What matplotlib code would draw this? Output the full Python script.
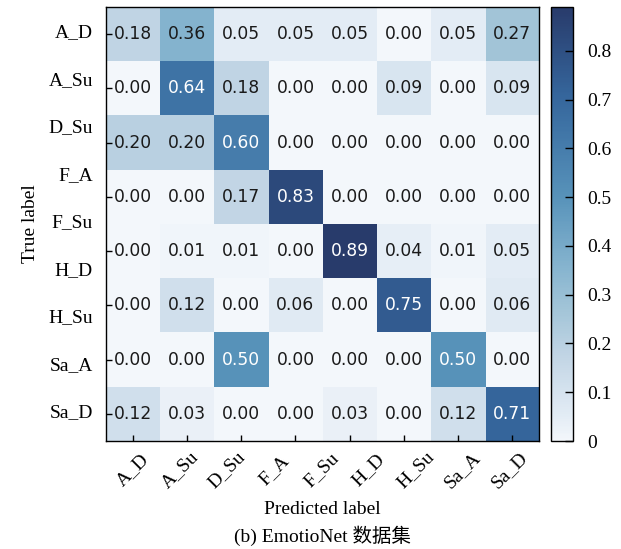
import numpy as np
import matplotlib
matplotlib.use('Agg')
from matplotlib import pyplot as plt
from matplotlib.colors import LinearSegmentedColormap

# 類別名稱（9個標籤，矩陣本身為8x8）
CLASSES = ['A_D', 'A_Su', 'D_Su', 'F_A', 'F_Su', 'H_D', 'H_Su', 'Sa_A', 'Sa_D']
# 混淆矩陣數值
CM = np.array([
    [0.18, 0.36, 0.05, 0.05, 0.05, 0.00, 0.05, 0.27],
    [0.00, 0.64, 0.18, 0.00, 0.00, 0.09, 0.00, 0.09],
    [0.20, 0.20, 0.60, 0.00, 0.00, 0.00, 0.00, 0.00],
    [0.00, 0.00, 0.17, 0.83, 0.00, 0.00, 0.00, 0.00],
    [0.00, 0.01, 0.01, 0.00, 0.89, 0.04, 0.01, 0.05],
    [0.00, 0.12, 0.00, 0.06, 0.00, 0.75, 0.00, 0.06],
    [0.00, 0.00, 0.50, 0.00, 0.00, 0.00, 0.50, 0.00],
    [0.12, 0.03, 0.00, 0.00, 0.03, 0.00, 0.12, 0.71],
])
# 色條刻度
CBAR_TICKS = [0, 0.1, 0.2, 0.3, 0.4, 0.5, 0.6, 0.7, 0.8]
CBAR_LABELS = ['0', '0.1', '0.2', '0.3', '0.4', '0.5', '0.6', '0.7', '0.8']

SERIF = 'Liberation Serif'

# 比 Blues 稍微灰一點的色階（依原圖取色）
CMAP = LinearSegmentedColormap.from_list('muted_blues', [
    (0.00, '#f3f7fb'),
    (0.056, '#e3ecf5'),
    (0.135, '#d0dfec'),
    (0.20, '#c0d4e4'),
    (0.30, '#a3c5d8'),
    (0.40, '#86b4cf'),
    (0.56, '#5893ba'),
    (0.72, '#3f74a6'),
    (0.80, '#35659b'),
    (1.00, '#283b6b'),
])


def main():
    fig = plt.figure(figsize=(6.21, 5.49), dpi=100)
    ax = fig.add_axes([0.1707, 0.1967, 0.6973, 0.7905])
    cax = fig.add_axes([0.8873, 0.1967, 0.0354, 0.7905])

    im = ax.imshow(CM, cmap=CMAP, vmin=0, vmax=CM.max(),
                   interpolation='nearest', aspect='auto')

    # 格子內數值
    thresh = CM.max() / 2
    n = CM.shape[0]
    for i in range(n):
        for j in range(CM.shape[1]):
            ax.text(j, i, f'{CM[i, j]:.2f}', ha='center', va='center',
                    fontsize=12.3, family='DejaVu Sans',
                    color='white' if CM[i, j] > thresh else '#1a1a1a')

    # 刻度：只在左側與下方，朝內
    ax.set_xticks(np.arange(n))
    ax.set_yticks(np.arange(n))
    ax.set_xticklabels([])
    ax.set_yticklabels([])
    ax.tick_params(direction='in', length=4, width=1,
                   top=False, right=False)
    for s in ax.spines.values():
        s.set_linewidth(1.0)

    # 9個標籤平均分布
    xpos = np.linspace(0.062, 0.932, len(CLASSES))
    ypos = np.linspace(0.940, 0.065, len(CLASSES))
    for name, x in zip(CLASSES, xpos):
        ax.text(x, -0.067, name, transform=ax.transAxes, rotation=45,
                ha='center', va='center', fontsize=14, family=SERIF)
    for name, y in zip(CLASSES, ypos):
        ax.text(-0.03, y, name, transform=ax.transAxes,
                ha='right', va='center', fontsize=14, family=SERIF)

    ax.text(-0.175, 0.5, 'True label', transform=ax.transAxes,
            rotation=90, ha='center', va='center', fontsize=14, family=SERIF)
    ax.text(0.5, -0.158, 'Predicted label', transform=ax.transAxes,
            ha='center', va='center', fontsize=14, family=SERIF)
    ax.text(0.5, -0.218, '(b) EmotioNet 数据集', transform=ax.transAxes,
            ha='center', va='center', fontsize=14,
            family=[SERIF, 'Noto Sans CJK SC'])

    # 色條
    cb = fig.colorbar(im, cax=cax)
    cb.set_ticks(CBAR_TICKS)
    cb.set_ticklabels(CBAR_LABELS)
    cax.tick_params(direction='in', length=6, width=1, labelsize=14, pad=10)
    for lab in cax.get_yticklabels():
        lab.set_family(SERIF)
    cb.outline.set_linewidth(1.0)

    fig.savefig('out.png', dpi=100)


if __name__ == '__main__':
    main()
